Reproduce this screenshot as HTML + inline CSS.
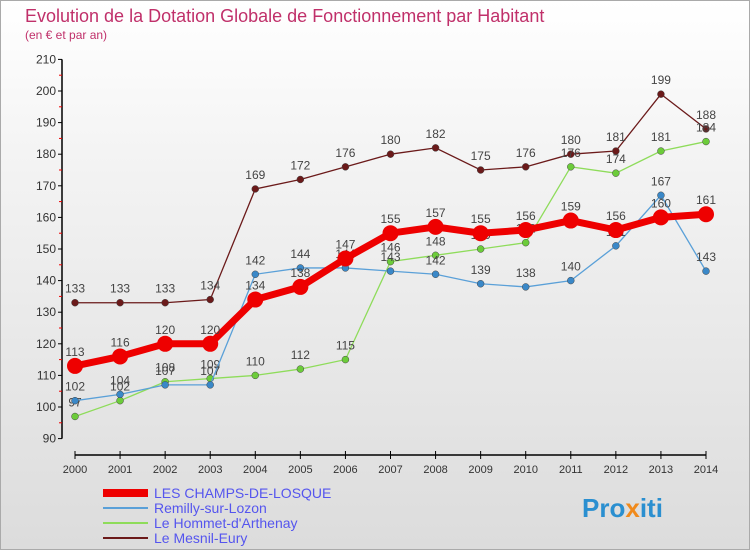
<!DOCTYPE html>
<html><head><meta charset="utf-8"><style>
body{margin:0;width:750px;height:550px;overflow:hidden;font-family:"Liberation Sans",sans-serif}
#bg{position:absolute;left:0;top:0;width:748px;height:548px;border:1px solid #aaa;background:linear-gradient(#fff 0%,#f3f3f3 30%,#dcdcdc 100%)}
</style></head><body>
<div id="bg"></div>
<svg id="c" width="750" height="550" style="position:absolute;left:0;top:0">
<text x="25" y="22" font-size="18" fill="#c0306a">Evolution de la Dotation Globale de Fonctionnement par Habitant</text>
<text x="25" y="39" font-size="12" fill="#c0306a">(en € et par an)</text>
<g id="axes"></g><g id="series"></g><g id="legend"></g>
<text x="582" y="517" font-size="26" font-weight="bold" fill="#2a8fd0">Pro<tspan fill="#f08a1c">x</tspan>iti</text>
</svg>
<script>
const years=[2000,2001,2002,2003,2004,2005,2006,2007,2008,2009,2010,2011,2012,2013,2014];
const yTicks=[90,100,110,120,130,140,150,160,170,180,190,200,210];
const champs=[113,116,120,120,134,138,147,155,157,155,156,159,156,160,161];
const remilly=[102,104,107,107,142,144,144,143,142,139,138,140,151,167,143];
const hommet=[97,102,108,109,110,112,115,146,148,150,152,176,174,181,184];
const mesnil=[133,133,133,134,169,172,176,180,182,175,176,180,181,199,188];
const seriesNames=["LES CHAMPS-DE-LOSQUE","Remilly-sur-Lozon","Le Hommet-d'Arthenay","Le Mesnil-Eury"];
const NS="http://www.w3.org/2000/svg";
const X=i=>75+i*(706-75)/(years.length-1);
const Y=v=>438.6-(v-90)*3.16;
function mk(t,a,p){const e=document.createElementNS(NS,t);for(const k in a)e.setAttribute(k,a[k]);p.appendChild(e);return e;}
const ax=document.getElementById('axes');
mk('line',{x1:62,y1:Y(210),x2:62,y2:Y(90),stroke:'#000','stroke-width':1.5},ax);
mk('line',{x1:75,y1:455,x2:706,y2:455,stroke:'#000','stroke-width':1.5},ax);
yTicks.forEach(v=>{
 mk('line',{x1:58,y1:Y(v),x2:62,y2:Y(v),stroke:'#000'},ax);
 if(v<210)mk('line',{x1:59,y1:Y(v+5),x2:62,y2:Y(v+5),stroke:'#e00'},ax);
 const t=mk('text',{x:56,y:Y(v)+4,'text-anchor':'end','font-size':12,fill:'#333'},ax);t.textContent=v;
 
 
});
years.forEach((y,i)=>{
 mk('line',{x1:X(i),y1:451,x2:X(i),y2:459,stroke:'#000'},ax);
 const t=mk('text',{x:X(i),y:473,'text-anchor':'middle','font-size':11,fill:'#333'},ax);t.textContent=y;
 
 
});
const sg=document.getElementById('series');
const defs=[[mesnil,'#6b1a1a',1.3,4.5,'#6b1a1a'],[hommet,'#8edc5a',1.3,4.5,'#6ccc3a'],[remilly,'#5aa0d8',1.3,4.5,'#3a88c8'],[champs,'#ee0000',7,8,'#ee0000']];
const names=['series-mesnil','series-hommet','series-remilly','series-champs'];
defs.forEach((d,k)=>{
 const g=mk('g',{},sg);
 
 
 mk('polyline',{points:d[0].map((v,i)=>X(i)+','+Y(v)).join(' '),fill:'none',stroke:d[1],'stroke-width':d[2]},g);
 d[0].forEach((v,i)=>{
  const c=mk('circle',{cx:X(i),cy:Y(v),r:d[3]/ (d[2]>2?1:1.3),fill:d[4],stroke:d[2]>2?'none':'#444','stroke-width':0.5},g);
  
  
  const t=mk('text',{x:X(i),y:Y(v)-10,'text-anchor':'middle','font-size':12,fill:'#444'},g);t.textContent=v;
  
  
 });
});
const lg=document.getElementById('legend');
const lc=['#ee0000','#5aa0d8','#8edc5a','#6b1a1a'],lw=[8,2,2,2];
seriesNames.forEach((n,i)=>{
 const g=mk('g',{},lg);
 
 
 const y=493+i*15;
 mk('line',{x1:103,y1:y,x2:148,y2:y,stroke:lc[i],'stroke-width':lw[i]},g);
 const t=mk('text',{x:154,y:y+5,'font-size':14,fill:'#5555ee'},g);t.textContent=n;
});
</script>
</body></html>
